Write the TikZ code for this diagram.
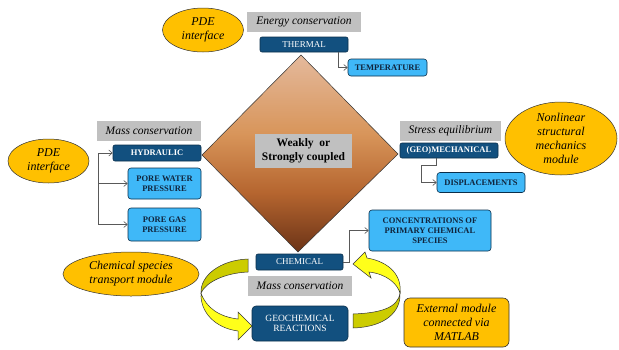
\documentclass[tikz,border=0pt]{standalone}
\usepackage{fontspec}
\setmainfont{Liberation Serif}
\usetikzlibrary{shapes.geometric,arrows.meta,calc}
\definecolor{darkb}{HTML}{12507F}
\definecolor{darkbl}{HTML}{0A2E4A}
\definecolor{lightb}{HTML}{3FB8F8}
\definecolor{graybox}{HTML}{C0C0C0}
\definecolor{gold}{HTML}{FFC000}
\definecolor{olive}{HTML}{CCCC00}
\definecolor{yel}{HTML}{FFFF1A}
\definecolor{navytext}{HTML}{10243C}
\definecolor{dtop}{HTML}{E4B99C}
\definecolor{dmid}{HTML}{D8955A}
\definecolor{dlow}{HTML}{B5652F}
\definecolor{dbot}{HTML}{6B3317}
\pgfdeclareverticalshading{diamshade}{100bp}{color(0bp)=(dbot); color(25bp)=(dbot); color(40bp)=(dlow); color(55bp)=(dmid); color(75bp)=(dtop); color(100bp)=(dtop)}
\begin{document}
\begin{tikzpicture}[x=1pt,y=-1pt,
  gbox/.style={fill=graybox, draw=none, font=\fontsize{11.5}{13}\selectfont\itshape, inner sep=0pt},
  dbox/.style={fill=darkb, draw=darkbl, line width=0.6pt, rounded corners=2pt, text=white, font=\fontsize{9}{10}\selectfont, align=center, inner sep=0pt},
  lbox/.style={fill=lightb, draw=darkbl, line width=0.6pt, rounded corners=3pt, text=navytext, font=\fontsize{8.5}{10}\selectfont\bfseries, align=center, inner sep=0pt},
  oval/.style={ellipse, fill=gold, draw=black!80, line width=0.5pt, font=\fontsize{12}{14}\selectfont\itshape, align=center, inner sep=0pt},
  obox/.style={fill=gold, draw=black!80, line width=0.6pt, rounded corners=6pt, font=\fontsize{12}{14}\selectfont\itshape, align=center, inner sep=0pt},
  conn/.style={draw=black!65, line width=0.6pt, -{Straight Barb[length=3.5pt,width=6pt]}},
  band/.style={draw=black!80, line width=0.5pt}
]
\useasboundingbox (0,0) rectangle (619,349);
\fill[white] (0,0) rectangle (619,349);

% central diamond
\shade[shading=diamshade, draw=black!80, line width=0.5pt]
  (301,55) -- (398,154) -- (298,252) -- (202,155) -- cycle;
\node[fill=graybox, minimum width=97pt, minimum height=34pt, inner sep=0pt,
      font=\fontsize{11.5}{14}\selectfont\bfseries, align=center] (core) at (303.5,151) {Weakly~~or\\Strongly coupled};

% top
\node[gbox, minimum width=114pt, minimum height=20pt] (energy) at (304,22) {Energy conservation};
\node[dbox, minimum width=88pt, minimum height=15pt] (thermal) at (304,44.5) {THERMAL};
\node[lbox, minimum width=79pt, minimum height=17pt] (temp) at (387.5,67.5) {TEMPERATURE};
\node[oval, minimum width=81pt, minimum height=44pt] (pde1) at (203,30) {PDE\\interface};

% left
\node[gbox, minimum width=104pt, minimum height=20pt] (mass1) at (149,131) {Mass conservation};
\node[dbox, font=\fontsize{8.5}{10}\selectfont\bfseries, minimum width=88pt, minimum height=16pt] (hydraulic) at (157,153) {HYDRAULIC};
\node[oval, minimum width=81pt, minimum height=44pt] (pde2) at (48.5,161) {PDE\\interface};
\node[lbox, minimum width=73pt, minimum height=31pt] (pwp) at (164.5,183.5) {PORE WATER\\PRESSURE};
\node[lbox, minimum width=73pt, minimum height=33pt] (pgp) at (164.5,224.5) {PORE GAS\\PRESSURE};
\coordinate (hb) at (98,153);

% right
\node[gbox, minimum width=101pt, minimum height=20pt] (stress) at (450.5,131) {Stress equilibrium};
\node[dbox, font=\fontsize{8.5}{10}\selectfont\bfseries, minimum width=98pt, minimum height=15pt] (geomech) at (449,150.5) {(GEO)MECHANICAL};
\node[lbox, minimum width=88pt, minimum height=20pt] (disp) at (481,182.5) {DISPLACEMENTS};
\node[oval, minimum width=112pt, minimum height=73pt] (nonlin) at (561,138.5) {Nonlinear\\structural\\mechanics\\module};

% bottom
\node[lbox, minimum width=122pt, minimum height=41pt] (conc) at (430,230.5) {CONCENTRATIONS OF\\PRIMARY CHEMICAL\\SPECIES};
\node[dbox, minimum width=87pt, minimum height=16pt] (chemical) at (299.5,262) {CHEMICAL};
\node[gbox, minimum width=104pt, minimum height=20pt] (mass2) at (300,286) {Mass conservation};
\node[dbox, rounded corners=4pt, font=\fontsize{9.5}{10.5}\selectfont, minimum width=96pt, minimum height=35pt] (geo) at (300,323.5) {GEOCHEMICAL\\REACTIONS};
\node[oval, minimum width=136pt, minimum height=44pt] (cstm) at (131,274) {Chemical species\\transport module};
\node[obox, minimum width=105pt, minimum height=49pt] (ext) at (456.5,322.5) {External module\\connected via\\MATLAB};

% connectors
\draw[conn] ([xshift=34pt]thermal.south) |- (temp.west);
\draw[conn] (hb) -- (hydraulic.west);
\draw[conn] (hb) |- (pwp.west);
\draw[conn] (hb) |- (pgp.west);
\draw[conn] (geomech.south -| disp.west) -- ++(0,7) -- ++(-15,0) |- (disp.west);
\draw[conn] (chemical.east) -- ++(6,0) |- (conc.west);

% yellow curved arrows
\fill[olive, band] (248,259) .. controls (220,260) and (200,276) .. (201,293)
  .. controls (206,282) and (225,273) .. (248,272) -- cycle;
\fill[yel, band] (201,293) .. controls (200,312) and (215,328) .. (238,331)
  -- (238,340) -- (252,326) -- (238,312) -- (238,319)
  .. controls (220,317) and (206,308) .. (201,293) -- cycle;
\fill[yel, band] (400,293) .. controls (402,276) and (390,262) .. (367,258)
  -- (365,252) -- (353,264) -- (371,278) -- (369,272)
  .. controls (386,274) and (397,283) .. (400,293) -- cycle;
\fill[olive, band] (400,293) .. controls (398,308) and (380,313) .. (353,314)
  -- (353,328) .. controls (385,327) and (401,312) .. (400,293) -- cycle;
\end{tikzpicture}
\end{document}
